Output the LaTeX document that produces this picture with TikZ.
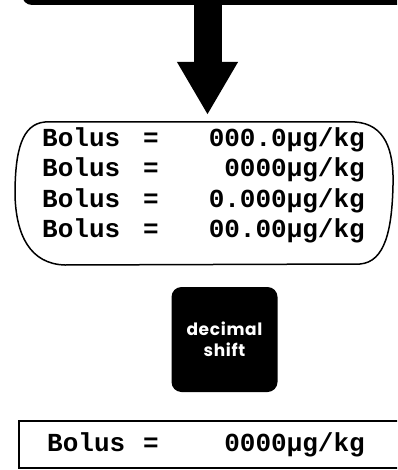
\documentclass[tikz,border=0pt]{standalone}
\usepackage{fontspec}
\newfontfamily\lcdfont{Liberation Mono}
\newfontfamily\keyfont{Poppins}[LetterSpace=4]
\usetikzlibrary{positioning, arrows.meta}
\tikzset{
    lcd/.style={font=\lcdfont\bfseries\fontsize{26}{26}\selectfont, inner sep=0pt},
    keycap/.style={fill=black, rounded corners=10pt, text=white, align=center,
        font=\keyfont\bfseries\fontsize{17}{21}\selectfont},
    bigarrow/.style={line width=28pt, -{Triangle[length=53pt, width=57pt]}},
    frame/.style={line width=1.5pt}
}

\begin{document}
\begin{tikzpicture}[x=1pt, y=-1pt]
        \useasboundingbox (0,0) rectangle (397,470);
        \clip (0,0) rectangle (397,470);

        % key above, mostly off the page
        \node[keycap, minimum width=420pt, minimum height=60pt] (topkey) at (232,-25) {};

        % display with the four formats
        \draw[frame] (45,122) -- (355,122)
            .. controls (385,124) and (394,150) .. (393,185)
            .. controls (392,230) and (385,262) .. (360,264)
            -- (65,265)
            .. controls (30,264) and (16,235) .. (15,195)
            .. controls (15,150) and (22,124) .. (45,122) -- cycle;
        \coordinate (disptop) at (207.5,115);
        \draw[bigarrow] (topkey.south -| disptop) -- (disptop);

        \foreach \val [count=\i] in {000.0µg/kg, 0000µg/kg, 0.000µg/kg, 00.00µg/kg} {
            \node[lcd, anchor=base west] (bolus\i) at (42, 117+30*\i) {Bolus};
            \node[lcd, anchor=base] (eq\i) at (151, 117+30*\i) {=};
            \node[lcd, anchor=base east] (val\i) at (365, 117+30*\i) {\val};
        }

        % decimal shift key
        \node[keycap, minimum width=106pt, minimum height=105pt] (shiftkey) at (224.5,339.5) {decimal\\shift};

        % resulting readout
        \draw[frame] (400,421) -- (19,421) -- (19,468) -- (400,468);
        \draw[line width=2.5pt] (19,421) -- (19,468);
        \node[lcd, anchor=base west] (bolusout) at (47,451) {Bolus};
        \node[lcd, anchor=base] (eqout) at (151,451) {=};
        \node[lcd, anchor=base east] (valout) at (365,451) {0000µg/kg};
    \end{tikzpicture}
\end{document}
